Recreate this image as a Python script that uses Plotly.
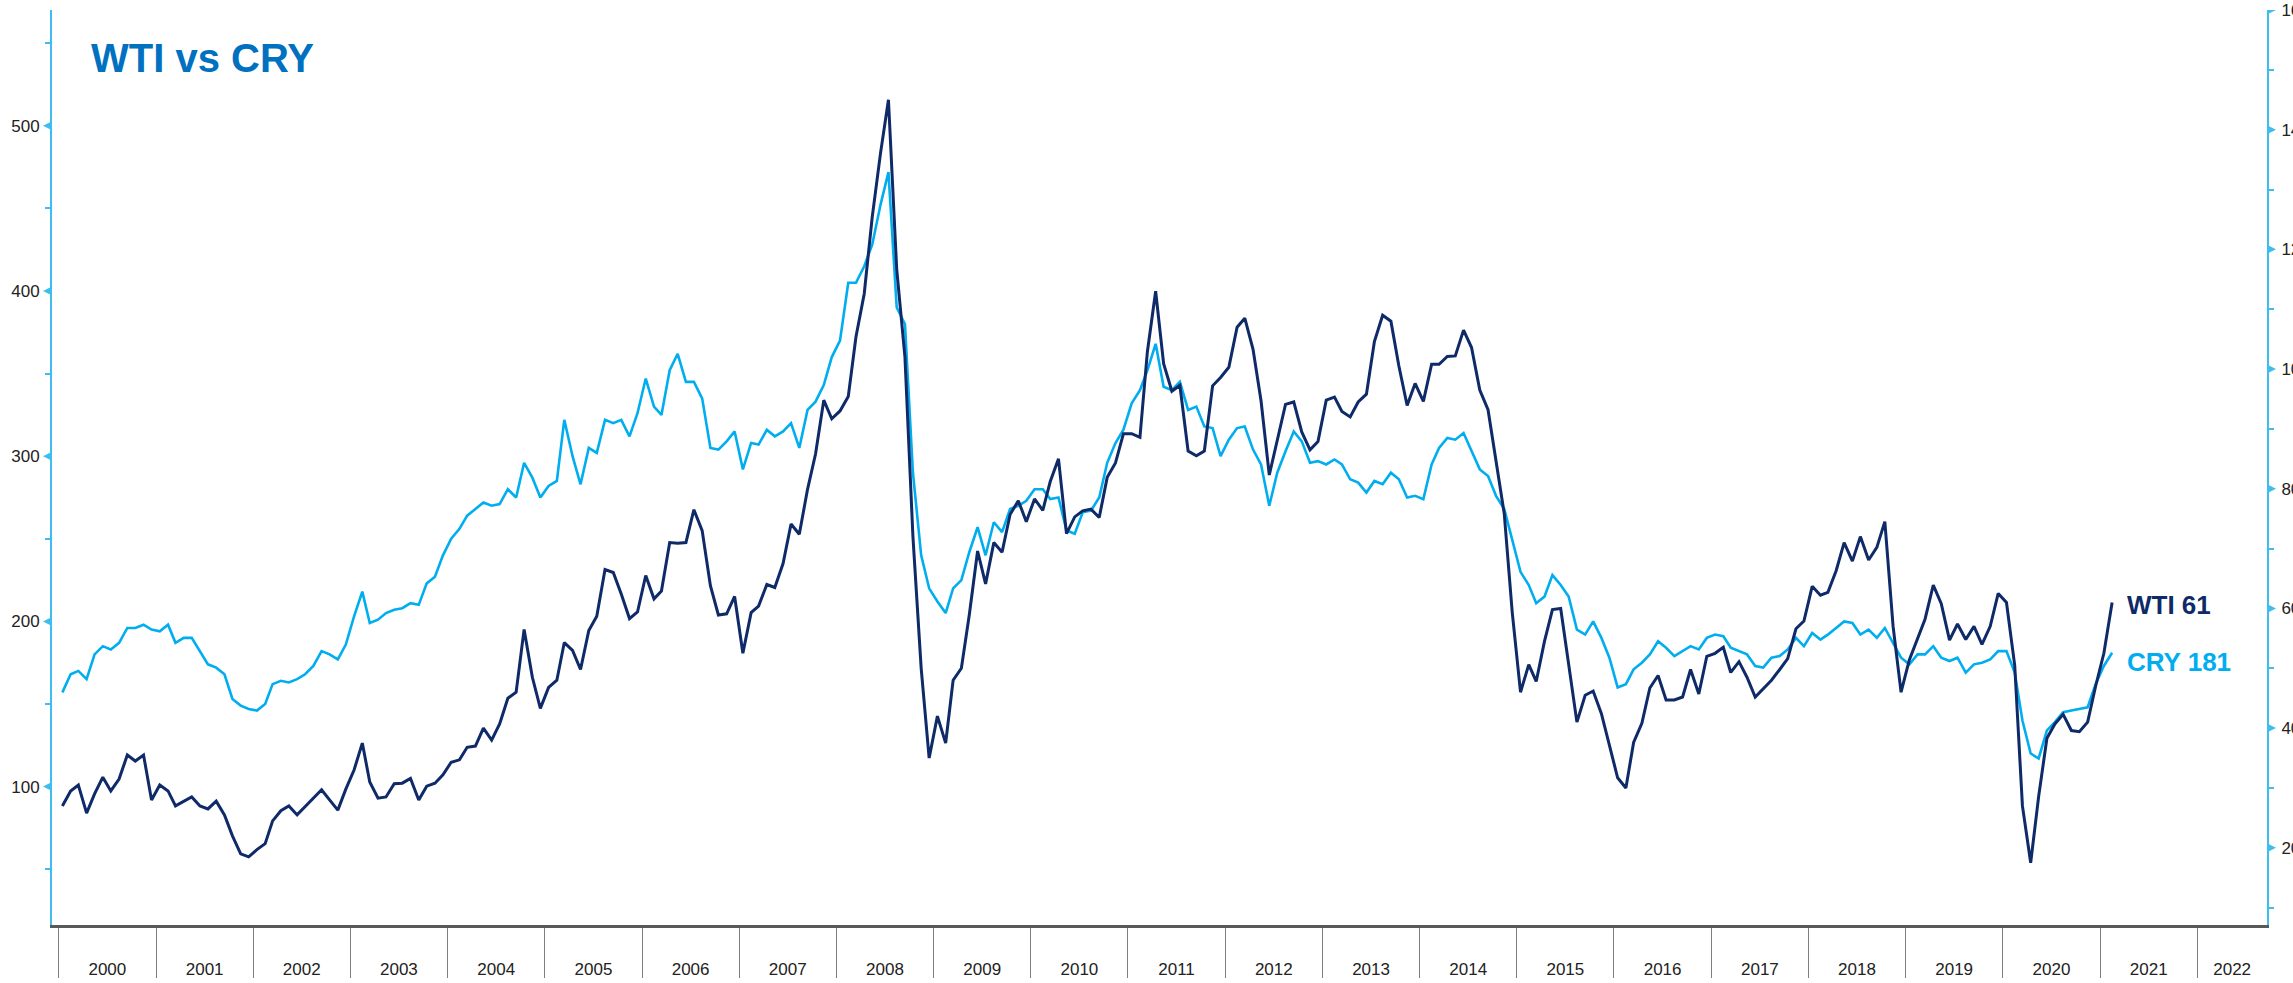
import pandas as pd
import plotly.graph_objects as go

# ---------------- data (monthly) ----------------
wti = [
    27.0, 29.5, 30.5, 25.8, 29.0, 31.8, 29.5, 31.5, 35.5, 34.5, 35.5, 28.0,
    30.5, 29.5, 27.0, 27.8, 28.5, 27.0, 26.5, 27.8, 25.5, 22.0, 19.0, 18.5,
    19.7, 20.7, 24.5, 26.2, 27.0, 25.5, 26.9, 28.4, 29.7, 28.0, 26.3, 29.8,
    33.0, 37.5, 31.0, 28.3, 28.5, 30.7, 30.8, 31.6, 28.0, 30.3, 30.8, 32.2,
    34.3, 34.7, 36.8, 37.0, 40.0, 38.0, 40.7, 45.0, 46.0, 56.5, 48.5, 43.3,
    46.8, 48.0, 54.3, 53.0, 49.8, 56.3, 58.7, 66.5, 66.0, 62.4, 58.3, 59.4,
    65.5, 61.6, 62.9, 71.0, 70.9, 71.0, 76.5, 73.0, 63.8, 58.9, 59.1, 62.0,
    52.5, 59.3, 60.4, 64.0, 63.5, 67.5, 74.1, 72.4, 79.9, 85.8, 94.8, 91.7,
    93.0, 95.4, 105.4, 112.6, 125.4, 136.0, 145.0, 116.7, 102.0, 72.0, 50.0, 35.0,
    42.0, 37.5, 48.0, 50.0, 59.0, 69.6, 64.1, 71.0, 69.4, 75.7, 78.0, 74.5,
    78.3, 76.4, 81.2, 85.0, 72.5, 75.3, 76.3, 76.6, 75.2, 81.9, 84.3, 89.2,
    89.2, 88.6, 102.9, 113.0, 100.9, 96.3, 97.3, 86.3, 85.5, 86.3, 97.2, 98.6,
    100.3, 107.0, 108.5, 103.3, 94.7, 82.3, 87.9, 94.1, 94.5, 89.5, 86.5, 87.9,
    94.8, 95.3, 92.9, 92.0, 94.5, 95.8, 104.6, 109.0, 108.0, 100.5, 93.9, 97.6,
    94.6, 100.8, 100.8, 102.1, 102.2, 106.5, 103.6, 96.5, 93.2, 84.4, 75.8, 59.3,
    46.0, 50.6, 47.8, 54.5, 59.8, 60.0, 50.9, 41.0, 45.5, 46.2, 42.4, 37.2,
    31.7, 30.0, 37.6, 40.8, 46.7, 48.8, 44.7, 44.7, 45.2, 49.8, 45.7, 52.0,
    52.5, 53.5, 49.3, 51.1, 48.5, 45.2, 46.6, 48.0, 49.8, 51.6, 56.6, 57.9,
    63.7, 62.2, 62.7, 66.3, 71.0, 67.9, 72.0, 68.1, 70.2, 74.5, 57.0, 46.0,
    51.4, 55.0, 58.2, 63.9, 60.8, 54.7, 57.4, 54.8, 57.0, 54.0, 57.0, 62.5,
    61.0, 50.5, 27.0, 17.5, 28.6, 38.3, 40.7, 42.3, 39.6, 39.4, 41.0, 47.0,
    52.5, 61.0,
]

cry = [
    157, 168, 170, 165, 180, 185, 183, 187, 196, 196, 198, 195,
    194, 198, 187, 190, 190, 182, 174, 172, 168, 153, 149, 147,
    146, 150, 162, 164, 163, 165, 168, 173, 182, 180, 177, 186,
    203, 218, 199, 201, 205, 207, 208, 211, 210, 223, 227, 240,
    250, 256, 264, 268, 272, 270, 271, 280, 275, 296, 287, 275,
    282, 285, 322, 300, 283, 305, 302, 322, 320, 322, 312, 326,
    347, 330, 325, 352, 362, 345, 345, 335, 305, 304, 309, 315,
    292, 308, 307, 316, 312, 315, 320, 305, 328, 333, 343, 360,
    370, 405, 405, 415, 428, 452, 472, 390, 380, 290, 240, 220,
    212, 205, 220, 225, 242, 257, 240, 260, 254, 268, 270, 273,
    280, 280, 274, 275, 255, 253, 266, 267, 275, 296, 308, 316,
    332, 340, 352, 368, 342, 340, 345, 328, 330, 318, 317, 300,
    310, 317, 318, 304, 295, 270, 290, 303, 315, 309, 296, 297,
    295, 298, 295, 286, 284, 278, 285, 283, 290, 286, 275, 276,
    274, 295, 305, 311, 310, 314, 303, 292, 288, 276, 268, 250,
    230, 222, 211, 215, 228, 222, 215, 195, 192, 200, 190, 178,
    160, 162, 171, 175, 180, 188, 184, 179, 182, 185, 183, 190,
    192, 191, 184, 182, 180, 173, 172, 178, 179, 183, 190, 185,
    193, 189, 192, 196, 200, 199, 192, 195, 190, 196, 187, 178,
    174, 180, 180, 185, 178, 176, 178, 169, 174, 175, 177, 182,
    182, 169, 140, 120, 117, 134, 139, 145, 146, 147, 148, 162,
    173, 181,
]

dates = pd.date_range("2000-01-01", periods=len(wti), freq="MS") + pd.Timedelta(days=14)

years = list(range(2000, 2023))
year_labels = [str(y) for y in years]
left_ticks = [100, 200, 300, 400, 500]
right_ticks = [20, 40, 60, 80, 100, 120, 140, 160]

title_text = "WTI vs CRY"
wti_label = "WTI 61"
cry_label = "CRY 181"

# ---------------- styling ----------------
NAVY = "#0F2A68"
LIGHT = "#00AEEF"
AXIS_BLUE = "#3DBEEF"
TICK_FONT = dict(family="Liberation Sans Narrow, Liberation Sans, Arial", size=17, color="#222222")

W, H = 2293, 983
L, R, T, B = 52, 26, 10, 58

x_start = pd.Timestamp("1999-12-07")
x_end = pd.Timestamp("2022-09-20")

# year label positions: middle of each year (last one in the partial year)
label_pos = []
for y in years:
    a = pd.Timestamp(f"{y}-01-01")
    b = min(pd.Timestamp(f"{y+1}-01-01"), x_end)
    label_pos.append(a + (b - a) / 2)

fig = go.Figure()
fig.add_trace(go.Scatter(x=dates, y=cry, mode="lines", name="CRY",
                         line=dict(color=LIGHT, width=2.6), yaxis="y"))
fig.add_trace(go.Scatter(x=dates, y=wti, mode="lines", name="WTI",
                         line=dict(color=NAVY, width=3), yaxis="y2"))

shapes = []
for v in left_ticks:
    shapes.append(dict(type="path", xref="paper", yref="y", xsizemode="pixel", ysizemode="pixel",
                       xanchor=0, yanchor=v, path="M0,4.5 L0,-4.5 L-9,0 Z",
                       fillcolor=AXIS_BLUE, line=dict(width=0)))
for v in right_ticks:
    shapes.append(dict(type="path", xref="paper", yref="y2", xsizemode="pixel", ysizemode="pixel",
                       xanchor=1, yanchor=v, path="M0,4.5 L0,-4.5 L9,0 Z",
                       fillcolor=AXIS_BLUE, line=dict(width=0)))

fig.update_layout(
    width=W, height=H,
    margin=dict(l=L, r=R, t=T, b=B, autoexpand=False),
    paper_bgcolor="white", plot_bgcolor="white",
    showlegend=False,
    shapes=shapes,
    xaxis=dict(
        type="date", range=[x_start, x_end],
        showgrid=False, zeroline=False,
        showline=True, linecolor="#595959", linewidth=3,
        tickmode="array", tickvals=label_pos, ticktext=year_labels,
        ticks="outside", ticklen=27, tickcolor="rgba(0,0,0,0)",
        tickfont=TICK_FONT, tickangle=0,
        minor=dict(tickmode="linear", tick0="2000-01-01", dtick="M12",
                   ticks="outside", ticklen=50, tickcolor="#7f7f7f", tickwidth=1, showgrid=False),
        automargin=False,
    ),
    yaxis=dict(
        range=[16.2, 570.1], showgrid=False, zeroline=False,
        showline=True, linecolor=AXIS_BLUE, linewidth=2,
        tickmode="array", tickvals=left_ticks,
        ticks="outside", ticklen=7, tickcolor="rgba(0,0,0,0)",
        tickfont=TICK_FONT,
        minor=dict(tickmode="linear", tick0=50, dtick=100, ticks="outside",
                   ticklen=5, tickcolor=AXIS_BLUE, tickwidth=1.5),
        automargin=False,
    ),
    yaxis2=dict(
        range=[7.1, 160], overlaying="y", side="right", showgrid=False, zeroline=False,
        showline=True, linecolor=AXIS_BLUE, linewidth=2,
        tickmode="array", tickvals=right_ticks,
        ticks="outside", ticklen=9, tickcolor="rgba(0,0,0,0)",
        tickfont=TICK_FONT, ticklabeloverflow="allow",
        minor=dict(tickmode="linear", tick0=10, dtick=20, ticks="outside",
                   ticklen=5, tickcolor=AXIS_BLUE, tickwidth=1.5),
        automargin=False,
    ),
    annotations=[
        dict(text=f"<b>{title_text}</b>", xref="paper", yref="paper",
             x=(89 - L) / (W - L - R), y=(H - B - 58) / (H - B - T),
             xanchor="left", yanchor="middle", showarrow=False,
             font=dict(family="Liberation Sans, Arial", size=40, color="#0070C0")),
        dict(text=f"<b>{wti_label}</b>", xref="paper", yref="paper",
             x=(2125 - L) / (W - L - R), y=(H - B - 605) / (H - B - T),
             xanchor="left", yanchor="middle", showarrow=False,
             font=dict(family="Liberation Sans, Arial", size=26, color=NAVY)),
        dict(text=f"<b>{cry_label}</b>", xref="paper", yref="paper",
             x=(2125 - L) / (W - L - R), y=(H - B - 662) / (H - B - T),
             xanchor="left", yanchor="middle", showarrow=False,
             font=dict(family="Liberation Sans, Arial", size=26, color=LIGHT)),
    ],
)

fig.write_html("out.html", config={"displayModeBar": False},
               post_script="document.body.style.margin='0';document.body.style.overflow='hidden';")
